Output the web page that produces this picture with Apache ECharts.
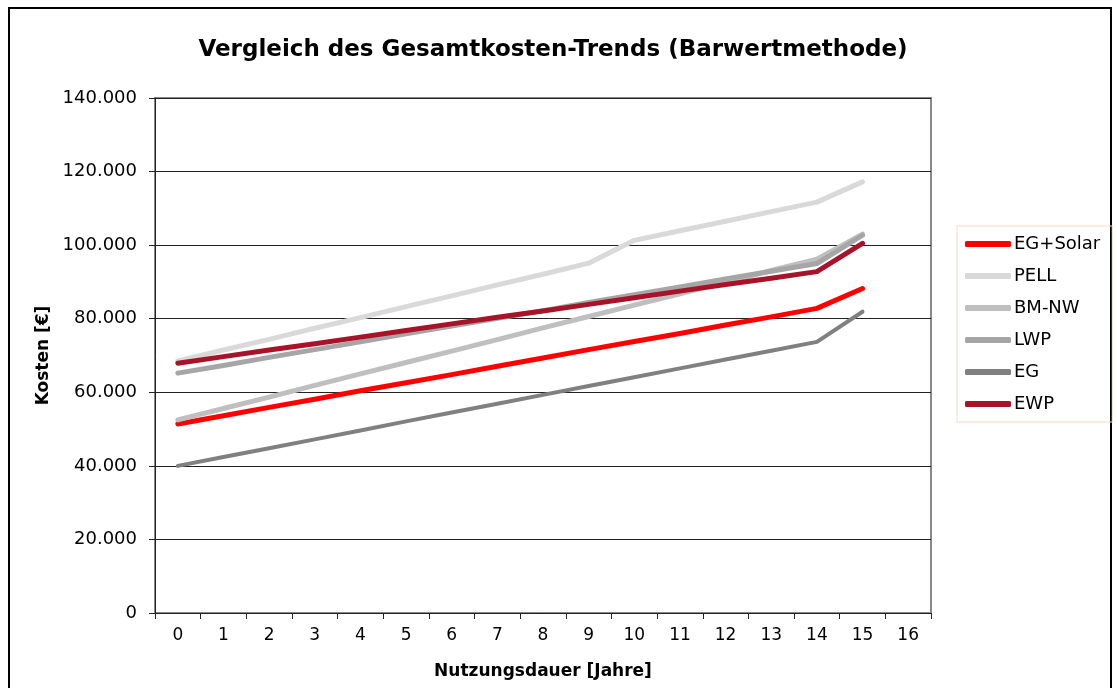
<!DOCTYPE html>
<html>
<head>
<meta charset="utf-8">
<title>Gesamtkosten-Trends</title>
<script src="https://cdn.jsdelivr.net/npm/echarts@6/dist/echarts.min.js"></script>
<style>
  html, body { margin: 0; padding: 0; background: #fff; }
  .frame {
    position: absolute; left: 8px; top: 7px; width: 1104px; height: 690px;
    border: 2px solid #000; box-sizing: border-box;
  }
  #chart { position: absolute; left: 0; top: 0; width: 1117px; height: 688px; }
</style>
</head>
<body>
<div class="frame"></div>
<div id="chart"></div>
<script>
// Jahre 0..16 (Achse), Werte nur bis Jahr 15
const years = ['0','1','2','3','4','5','6','7','8','9','10','11','12','13','14','15','16'];
const yTicks = [0, 20000, 40000, 60000, 80000, 100000, 120000, 140000];

// Kosten in Euro
const egSolar = [51400, 53600, 55900, 58100, 60400, 62600, 64800, 67100, 69300, 71600, 73800, 76000, 78300, 80500, 82800, 88200];
const pell    = [68500, 71500, 74400, 77400, 80300, 83300, 86200, 89200, 92100, 95100, 101300, 103900, 106500, 109100, 111700, 117200];
const bmNw    = [52500, 55600, 58700, 61900, 65000, 68100, 71200, 74300, 77500, 80600, 83700, 86800, 89900, 93100, 96200, 103000];
const lwp     = [65200, 67300, 69500, 71600, 73700, 75900, 78000, 80100, 82200, 84400, 86500, 88600, 90800, 92900, 95000, 102700];
const eg      = [40000, 42400, 44800, 47200, 49600, 52100, 54500, 56900, 59300, 61700, 64100, 66500, 68900, 71300, 73700, 81900];
const ewp     = [67900, 69700, 71500, 73200, 75000, 76800, 78600, 80400, 82100, 83900, 85700, 87500, 89300, 91000, 92800, 100500];

const font = 'DejaVu Sans, Verdana, sans-serif';

function fmt(v) {
  return String(v).replace(/\B(?=(\d{3})+(?!\d))/g, '.');
}

function mkLine(name, data, color, width) {
  return {
    name: name,
    type: 'line',
    data: data,
    showSymbol: false,
    symbol: 'none',
    lineStyle: { color: color, width: width, cap: 'round', join: 'round' },
    itemStyle: { color: color },
    emphasis: { disabled: true }
  };
}

let myChart = echarts.init(document.getElementById('chart'));
myChart.setOption({
  animation: false,
  textStyle: { fontFamily: font },
  title: {
    text: 'Vergleich des Gesamtkosten-Trends (Barwertmethode)',
    left: 548, top: 34, textAlign: 'center',
    textStyle: { fontFamily: font, fontSize: 23, fontWeight: 'bold', color: '#000' }
  },
  grid: {
    left: 155, top: 98, width: 776, height: 515,
    show: true, borderColor: '#888', borderWidth: 2, backgroundColor: 'transparent'
  },
  legend: {
    orient: 'vertical',
    left: 957, top: 226,
    padding: [9, 12, 9, 8],
    itemGap: 14,
    itemWidth: 46, itemHeight: 6,
    icon: 'roundRect',
    borderColor: '#f5d9c4', borderWidth: 1,
    textStyle: { fontFamily: font, fontSize: 18, color: '#000', padding: [0, 0, 0, -2] },
    data: ['EG+Solar', 'PELL', 'BM-NW', 'LWP', 'EG', 'EWP']
  },
  xAxis: {
    type: 'category',
    data: years,
    boundaryGap: true,
    name: 'Nutzungsdauer [Jahre]',
    nameLocation: 'middle',
    nameGap: 50,
    nameTextStyle: { fontFamily: font, fontSize: 17, fontWeight: 'bold', color: '#000' },
    axisLine: { lineStyle: { color: '#222', width: 1 } },
    axisTick: { show: true, interval: 0, length: 6, lineStyle: { color: '#222' } },
    axisLabel: { interval: 0, margin: 14, fontSize: 17, color: '#000', fontFamily: font },
    splitLine: { show: false }
  },
  yAxis: {
    type: 'value',
    min: yTicks[0], max: yTicks[yTicks.length - 1], interval: 20000,
    name: 'Kosten [€]',
    nameLocation: 'middle',
    nameGap: 101,
    nameTextStyle: { fontFamily: font, fontSize: 17, fontWeight: 'bold', color: '#000' },
    axisLine: { show: true, lineStyle: { color: '#222', width: 1 } },
    axisTick: { show: true, length: 6, lineStyle: { color: '#222' } },
    axisLabel: { margin: 18, fontSize: 18, color: '#000', fontFamily: font, formatter: fmt },
    splitLine: { show: true, lineStyle: { color: '#222', width: 1 } }
  },
  series: [
    mkLine('EG+Solar', egSolar, '#ff0000', 5),
    mkLine('PELL', pell, '#d9d9d9', 5),
    mkLine('BM-NW', bmNw, '#bfbfbf', 5),
    mkLine('LWP', lwp, '#a6a6a6', 5),
    mkLine('EG', eg, '#808080', 4),
    mkLine('EWP', ewp, '#a8132a', 5)
  ]
});
</script>
</body>
</html>
